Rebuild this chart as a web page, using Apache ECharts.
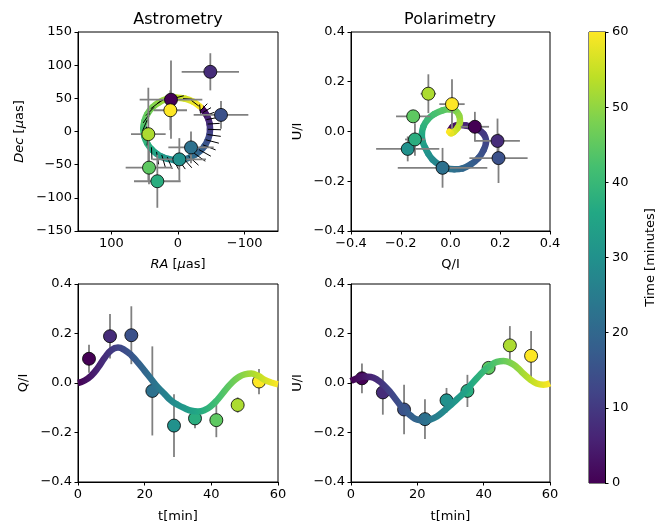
<!DOCTYPE html>
<html><head><meta charset="utf-8">
<script src="https://cdn.jsdelivr.net/npm/echarts@6/dist/echarts.min.js"></script>
<style>html,body{margin:0;padding:0;background:#fff}#c{width:671px;height:524px}</style>
</head><body><div id="c"></div><script>
// model track sampled every 2 minutes
const tCurve = [0,2,4,6,8,10,12,14,16,18,20,22,24,26,28,30,32,34,36,38,40,42,44,46,48,50,52,54,56,58,60];
const qCurve = [0.000,0.010,0.030,0.062,0.102,0.133,0.143,0.133,0.112,0.082,0.049,0.015,-0.018,-0.045,-0.072,-0.089,-0.102,-0.112,-0.115,-0.109,-0.092,-0.065,-0.032,-0.001,0.022,0.035,0.038,0.029,0.013,0.002,-0.005];
const uCurve = [0.008,0.020,0.026,0.024,0.012,-0.010,-0.040,-0.075,-0.107,-0.132,-0.148,-0.152,-0.147,-0.134,-0.113,-0.090,-0.065,-0.040,-0.010,0.020,0.048,0.070,0.085,0.089,0.082,0.064,0.038,0.015,-0.002,-0.007,-0.001];
const raCurve = [-36.3,-39.7,-42.9,-45.6,-47.4,-48.0,-47.1,-44.5,-40.2,-34.0,-26.7,-17.9,-9.3,-1.1,6.8,14.9,23.5,31.7,39.7,46.1,50.5,52.0,50.5,46.1,38.6,28.5,16.2,2.9,-10.5,-22.6,-32.7];
const decCurve = [34.2,29.9,24.6,18.5,11.4,3.2,-5.0,-13.2,-21.2,-28.7,-34.5,-39.1,-41.8,-42.9,-42.8,-41.4,-38.4,-33.8,-26.8,-18.1,-7.4,4.0,15.4,26.1,36.1,43.9,49.1,51.0,49.5,44.9,37.8];
// observations
const tObs = [3.3, 9.6, 16.0, 22.3, 28.8, 35.1, 41.5, 47.9, 54.3];
const qObs = [0.098, 0.189, 0.193, -0.032, -0.172, -0.143, -0.150, -0.089, 0.006];
const qErr = [0.057, 0.090, 0.117, 0.180, 0.127, 0.040, 0.069, 0.031, 0.051];
const uObs = [0.019, -0.038, -0.107, -0.146, -0.070, -0.032, 0.061, 0.152, 0.110];
const uErr = [0.060, 0.090, 0.100, 0.080, 0.050, 0.065, 0.020, 0.078, 0.100];
const raObs = [10.5, -48.5, -64.5, -19.5, -2.0, 31.0, 43.5, 44.5, 11.5];
const decObs = [48, 90, 25, -24, -42, -75, -54.5, -4, 32];
const raErr = [47, 43, 41, 34, 40, 35, 35, 26, 25];
const decErr = [59, 28, 21, 24, 32, 40, 25, 70, 30];
// axis ticks
const raTicks = [-100, 0, 100];
const colorbarTicks = [0, 10, 20, 30, 40, 50, 60];
const timeMax = 60;

const viridis = ['#440154','#482475','#414487','#355f8d','#2a788e','#21918c','#22a884','#44bf70','#7ad151','#bddf26','#fde725'];
const FONT = 'DejaVu Sans';
const minus = s => String(s).replace('-', '\u2212');
const fmtInt = v => minus(Math.round(v));
const fmt1 = v => minus((Math.abs(v) < 1e-9 ? 0 : v).toFixed(1));
const lab = (o) => Object.assign({color: '#000', fontSize: 13, fontFamily: FONT, margin: 6}, o);

function axis(grid, o) {
  return Object.assign({
    gridIndex: grid, type: 'value',
    axisLine: {show: true, onZero: false, lineStyle: {color: '#000', width: 1}},
    axisTick: {show: true, length: 3.5, lineStyle: {color: '#000', width: 1}},
    axisLabel: lab({}),
    splitLine: {show: false},
    nameLocation: 'middle',
    nameTextStyle: {color: '#000', fontSize: 13, fontFamily: FONT, rich: {i: {fontStyle: 'italic', fontSize: 13, fontFamily: FONT, color: '#000'}}}
  }, o);
}

function segRender(params, api) {
  const i = params.dataIndexInside, n = params.dataInsideLength;
  if (i >= n - 1) return null;
  const P = k => api.coord([api.value(0, k), api.value(1, k)]);
  const p0 = P(Math.max(i - 1, 0)), p1 = P(i), p2 = P(i + 1), p3 = P(Math.min(i + 2, n - 1));
  const c1 = [p1[0] + (p2[0] - p0[0]) / 6, p1[1] + (p2[1] - p0[1]) / 6];
  const c2 = [p2[0] - (p3[0] - p1[0]) / 6, p2[1] - (p3[1] - p1[1]) / 6];
  const col1 = api.visual('color', i), col2 = api.visual('color', i + 1);
  return {type: 'bezierCurve',
    shape: {x1: p1[0], y1: p1[1], x2: p2[0], y2: p2[1], cpx1: c1[0], cpy1: c1[1], cpx2: c2[0], cpy2: c2[1]},
    style: {fill: null, lineWidth: 6.5, lineCap: 'round',
      stroke: new echarts.graphic.LinearGradient(p1[0], p1[1], p2[0] + 0.01, p2[1] + 0.01, [{offset: 0, color: col1}, {offset: 1, color: col2}], true)}};
}
function errRender(params, api) {
  const x = api.value(0), y = api.value(1), ex = api.value(2), ey = api.value(3);
  const st = {stroke: '#808080', lineWidth: 1.8};
  const ch = [];
  if (ex > 0) { const a = api.coord([x - ex, y]), b = api.coord([x + ex, y]); ch.push({type: 'line', shape: {x1: a[0], y1: a[1], x2: b[0], y2: b[1]}, style: st}); }
  if (ey > 0) { const a = api.coord([x, y - ey]), b = api.coord([x, y + ey]); ch.push({type: 'line', shape: {x1: a[0], y1: a[1], x2: b[0], y2: b[1]}, style: st}); }
  return {type: 'group', children: ch};
}
// polarization ticks: start on the track, pointing along the EVPA+90 direction
function evpaRender(params, api) {
  const ra = api.value(0), dec = api.value(1), q = api.value(2), u = api.value(3);
  const p = Math.hypot(q, u);
  const chi = 0.5 * Math.atan2(u, q) + Math.PI / 2;
  const L = 7 + 30 * p;
  const c = api.coord([ra, dec]);
  const sx = Math.sin(chi), sy = Math.cos(chi);
  return {type: 'line', shape: {x1: c[0] - 2 * sx, y1: c[1] - 2 * sy, x2: c[0] + sx * L, y2: c[1] + sy * L}, style: {stroke: '#000', lineWidth: 1}};
}

const astroTrack = tCurve.map((t, i) => [raCurve[i], decCurve[i], t]);
const astroEvpa = tCurve.map((t, i) => [raCurve[i], decCurve[i], qCurve[i], uCurve[i]]);
const astroErr = tObs.map((t, i) => [raObs[i], decObs[i], raErr[i], decErr[i]]);
const astroPts = tObs.map((t, i) => [raObs[i], decObs[i], t]);
const polTrack = tCurve.map((t, i) => [qCurve[i], uCurve[i], t]);
const polErr = tObs.map((t, i) => [qObs[i], uObs[i], qErr[i], uErr[i]]);
const polPts = tObs.map((t, i) => [qObs[i], uObs[i], t]);
const qLine = tCurve.map((t, i) => [t, qCurve[i]]);
const uLine = tCurve.map((t, i) => [t, uCurve[i]]);
const qErrD = tObs.map((t, i) => [t, qObs[i], 0, qErr[i]]);
const uErrD = tObs.map((t, i) => [t, uObs[i], 0, uErr[i]]);
const qPts = tObs.map((t, i) => [t, qObs[i], t]);
const uPts = tObs.map((t, i) => [t, uObs[i], t]);

const ptStyle = {borderColor: '#000', borderWidth: 0.8, opacity: 1};
const gridBase = {show: true, borderColor: '#000', borderWidth: 1, backgroundColor: 'transparent', containLabel: false};
const cbStops = viridis.map((c, i) => ({offset: 1 - i / (viridis.length - 1), color: c}));
const titleStyle = {fontSize: 16, fontWeight: 'normal', color: '#000', fontFamily: FONT};

const option = {
  animation: false,
  backgroundColor: '#fff',
  textStyle: {fontFamily: FONT},
  title: [
    {text: 'Astrometry', left: 178, top: 12, padding: 0, textAlign: 'center', textStyle: titleStyle},
    {text: 'Polarimetry', left: 450, top: 12, padding: 0, textAlign: 'center', textStyle: titleStyle}
  ],
  grid: [
    Object.assign({left: 78, top: 32, width: 200, height: 199}, gridBase),
    Object.assign({left: 351, top: 32, width: 199, height: 199}, gridBase),
    Object.assign({left: 78, top: 284, width: 200, height: 199}, gridBase),
    Object.assign({left: 351, top: 284, width: 199, height: 199}, gridBase),
    Object.assign({left: 589, top: 32, width: 16, height: 451}, gridBase)
  ],
  xAxis: [
    axis(0, {min: -150, max: 150, inverse: true, name: '{i|RA} [{i|μ}as]', nameGap: 27,
      axisTick: {show: true, length: 3.5, customValues: raTicks, lineStyle: {color: '#000', width: 1}},
      axisLabel: lab({customValues: raTicks, formatter: fmtInt})}),
    axis(1, {min: -0.4, max: 0.4, interval: 0.2, name: 'Q/I', nameGap: 27, axisLabel: lab({formatter: fmt1})}),
    axis(2, {min: 0, max: 60, interval: 20, name: 't[min]', nameGap: 28, axisLabel: lab({formatter: fmtInt})}),
    axis(3, {min: 0, max: 60, interval: 20, name: 't[min]', nameGap: 28, axisLabel: lab({formatter: fmtInt})}),
    {gridIndex: 4, type: 'category', data: ['cb'], show: false}
  ],
  yAxis: [
    axis(0, {min: -150, max: 150, interval: 50, name: '{i|Dec} [{i|μ}as]', nameGap: 52, axisLabel: lab({formatter: fmtInt})}),
    axis(1, {min: -0.4, max: 0.4, interval: 0.2, name: 'U/I', nameGap: 47, axisLabel: lab({formatter: fmt1})}),
    axis(2, {min: -0.4, max: 0.4, interval: 0.2, name: 'Q/I', nameGap: 48, axisLabel: lab({formatter: fmt1})}),
    axis(3, {min: -0.4, max: 0.4, interval: 0.2, name: 'U/I', nameGap: 47, axisLabel: lab({formatter: fmt1})}),
    axis(4, {min: 0, max: timeMax, interval: 10, position: 'right', name: 'Time [minutes]', nameGap: 39,
      axisLabel: lab({margin: 7, customValues: colorbarTicks})})
  ],
  visualMap: [
    {type: 'continuous', show: false, min: 0, max: timeMax, dimension: 2, seriesIndex: [0, 4], inRange: {color: viridis}},
    {type: 'continuous', show: false, min: 0, max: timeMax, dimension: 0, seriesIndex: [7, 10], inRange: {color: viridis}},
    {type: 'continuous', show: false, min: Math.min(...tObs), max: Math.max(...tObs), dimension: 2, seriesIndex: [3, 6, 9, 12], inRange: {color: viridis}}
  ],
  series: [
    {type: 'custom', xAxisIndex: 0, yAxisIndex: 0, data: astroTrack, renderItem: segRender, encode: {x: 0, y: 1}, silent: true},
    {type: 'custom', xAxisIndex: 0, yAxisIndex: 0, data: astroEvpa, renderItem: evpaRender, encode: {x: 0, y: 1}, silent: true},
    {type: 'custom', xAxisIndex: 0, yAxisIndex: 0, data: astroErr, renderItem: errRender, encode: {x: 0, y: 1}, silent: true},
    {type: 'scatter', xAxisIndex: 0, yAxisIndex: 0, data: astroPts, symbolSize: 13, itemStyle: ptStyle, silent: true},
    {type: 'custom', xAxisIndex: 1, yAxisIndex: 1, data: polTrack, renderItem: segRender, encode: {x: 0, y: 1}, silent: true},
    {type: 'custom', xAxisIndex: 1, yAxisIndex: 1, data: polErr, renderItem: errRender, encode: {x: 0, y: 1}, silent: true},
    {type: 'scatter', xAxisIndex: 1, yAxisIndex: 1, data: polPts, symbolSize: 13, itemStyle: ptStyle, silent: true},
    {type: 'line', xAxisIndex: 2, yAxisIndex: 2, data: qLine, smooth: true, showSymbol: false, lineStyle: {width: 6.5}, silent: true},
    {type: 'custom', xAxisIndex: 2, yAxisIndex: 2, data: qErrD, renderItem: errRender, encode: {x: 0, y: 1}, silent: true},
    {type: 'scatter', xAxisIndex: 2, yAxisIndex: 2, data: qPts, symbolSize: 13, itemStyle: ptStyle, silent: true},
    {type: 'line', xAxisIndex: 3, yAxisIndex: 3, data: uLine, smooth: true, showSymbol: false, lineStyle: {width: 6.5}, silent: true},
    {type: 'custom', xAxisIndex: 3, yAxisIndex: 3, data: uErrD, renderItem: errRender, encode: {x: 0, y: 1}, silent: true},
    {type: 'scatter', xAxisIndex: 3, yAxisIndex: 3, data: uPts, symbolSize: 13, itemStyle: ptStyle, silent: true},
    {type: 'bar', xAxisIndex: 4, yAxisIndex: 4, data: [timeMax], barWidth: '100%', silent: true,
      itemStyle: {color: new echarts.graphic.LinearGradient(0, 0, 0, 1, cbStops)}}
  ]
};
const chart = echarts.init(document.getElementById('c'), null, {renderer: 'canvas'});
chart.setOption(option);
</script></body></html>
